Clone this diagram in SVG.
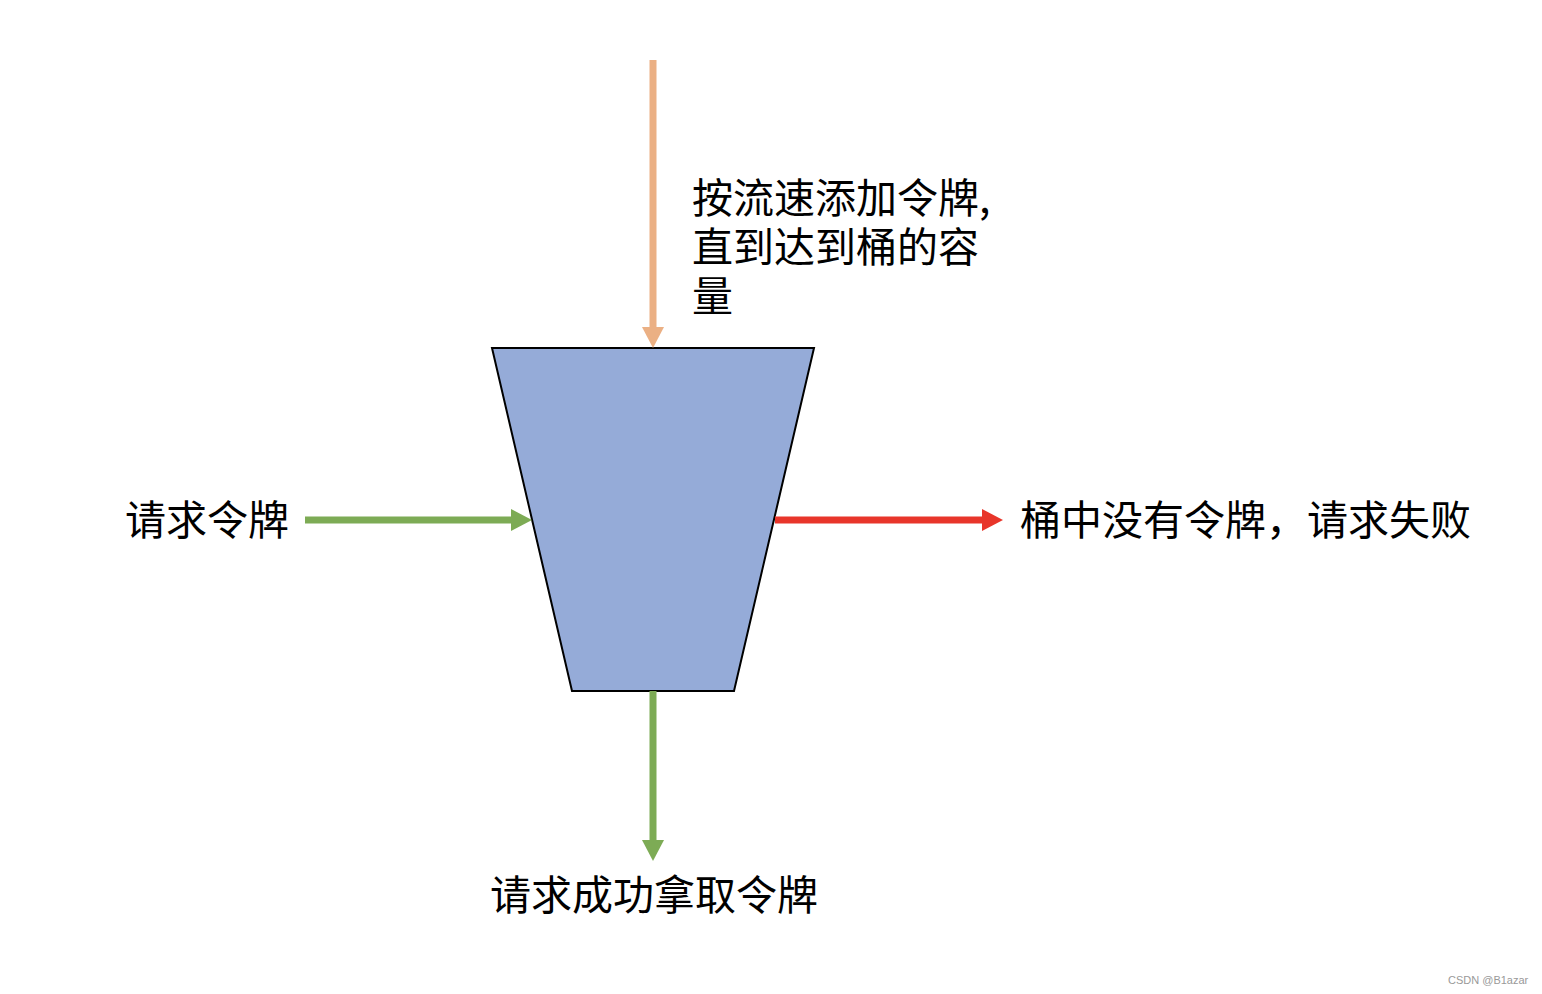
<svg xmlns="http://www.w3.org/2000/svg" width="1542" height="994" viewBox="0 0 1542 994">
<defs>
<style>
.t{font-family:"Noto Sans CJK SC","Noto Sans",sans-serif;font-size:41px;fill:#000}
.wm{font-family:"Liberation Sans",Arial,sans-serif;font-size:11px;fill:#999}
</style>
<marker id="mO" viewBox="0 0 10 10" refX="0" refY="5" markerWidth="21" markerHeight="22" markerUnits="userSpaceOnUse" orient="auto" preserveAspectRatio="none"><path d="M0,0 L10,5 L0,10 Z" fill="#EBB084"/></marker>
<marker id="mG" viewBox="0 0 10 10" refX="0" refY="5" markerWidth="21" markerHeight="22" markerUnits="userSpaceOnUse" orient="auto" preserveAspectRatio="none"><path d="M0,0 L10,5 L0,10 Z" fill="#7DAB55"/></marker>
<marker id="mR" viewBox="0 0 10 10" refX="0" refY="5" markerWidth="21" markerHeight="22" markerUnits="userSpaceOnUse" orient="auto" preserveAspectRatio="none"><path d="M0,0 L10,5 L0,10 Z" fill="#E8352A"/></marker>
</defs>
<rect width="1542" height="994" fill="#fff"/>
<g id="bucket">
<polygon points="492,348 814,348 734,691 572,691" fill="#95ABD8" stroke="#000" stroke-width="2"/>
</g>
<g id="connectors" fill="none" stroke-width="7">
<line x1="653" y1="60" x2="653" y2="327" stroke="#EBB084" marker-end="url(#mO)"/>
<line x1="305" y1="520" x2="511" y2="520" stroke="#7DAB55" marker-end="url(#mG)"/>
<line x1="775" y1="520" x2="982" y2="520" stroke="#E8352A" marker-end="url(#mR)"/>
<line x1="653" y1="691" x2="653" y2="840" stroke="#7DAB55" marker-end="url(#mG)"/>
</g>
<g id="label-top">
<text class="t" x="692" y="213">按流速添加令牌,</text>
<text class="t" x="692" y="262">直到达到桶的容</text>
<text class="t" x="692" y="311">量</text>
</g>
<g id="label-left"><text class="t" x="125" y="535">请求令牌</text></g>
<g id="label-right"><text class="t" x="1020" y="535">桶中没有令牌，请求失败</text></g>
<g id="label-bottom"><text class="t" x="490" y="910">请求成功拿取令牌</text></g>
<text class="wm" x="1448" y="984">CSDN @B1azar</text>
</svg>
